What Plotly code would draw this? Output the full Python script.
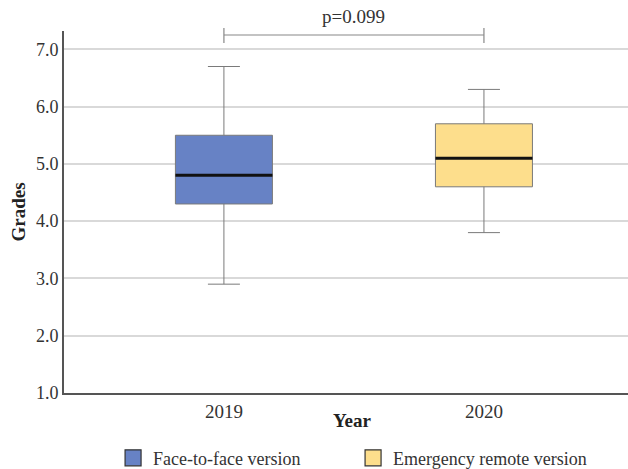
import plotly.graph_objects as go

years = ["2019", "2020"]
groups = ["Face-to-face version", "Emergency remote version"]
lower = [2.9, 3.8]
q1 = [4.3, 4.6]
median = [4.8, 5.1]
q3 = [5.5, 5.7]
upper = [6.7, 6.3]
p_label = "p=0.099"
x_title = "Year"
y_title = "Grades"
y_ticks = [1.0, 2.0, 3.0, 4.0, 5.0, 6.0, 7.0]

fills = ["#6782C5", "#FDDE8C"]
xpos = [0, 1]
box_w = 0.373
FONT = "Times New Roman, Liberation Serif, serif"

fig = go.Figure()
for i in range(2):
    fig.add_trace(go.Box(
        x=[xpos[i]], q1=[q1[i]], median=[median[i]], q3=[q3[i]],
        lowerfence=[lower[i]], upperfence=[upper[i]],
        width=box_w, whiskerwidth=0.33,
        fillcolor=fills[i], line=dict(color="#7a7a7a", width=1),
        showlegend=False, hoverinfo="skip", name=groups[i],
    ))
    fig.add_trace(go.Scatter(
        x=[xpos[i] - box_w / 2, xpos[i] + box_w / 2], y=[median[i], median[i]],
        mode="lines", line=dict(color="#111111", width=3),
        showlegend=False, hoverinfo="skip",
    ))
    fig.add_trace(go.Scatter(
        x=[None], y=[None], mode="markers", name=groups[i],
        marker=dict(symbol="square", size=19, color=fills[i],
                    line=dict(color="#333333", width=1.2)),
    ))

fig.add_shape(type="line", xref="x", yref="paper", x0=xpos[0], x1=xpos[1],
              y0=0.989, y1=0.989, line=dict(color="#888888", width=1.2))
for xp in xpos:
    fig.add_shape(type="line", xref="x", yref="paper", x0=xp, x1=xp,
                  y0=0.967, y1=1.008, line=dict(color="#888888", width=1.2))
fig.add_annotation(x=(xpos[0] + xpos[1]) / 2, y=1.005, xref="x", yref="paper",
                   text=p_label, showarrow=False, yanchor="bottom",
                   font=dict(family=FONT, size=19, color="#333333"))
fig.add_annotation(x=0.512, y=-0.075, xref="paper", yref="paper",
                   text="<b>" + x_title + "</b>", showarrow=False, yanchor="middle",
                   font=dict(family=FONT, size=19, color="#222222"))

fig.update_layout(
    width=628, height=469,
    margin=dict(l=64, r=0, t=31, b=76, autoexpand=False),
    plot_bgcolor="white", paper_bgcolor="white",
    font=dict(family=FONT, size=18, color="#333333"),
    xaxis=dict(range=[-0.615, 1.554], tickmode="array", tickvals=xpos, ticktext=years,
               showgrid=False, zeroline=False, showline=True, linecolor="#555555",
               linewidth=2, ticks="", automargin=False,
               tickfont=dict(family=FONT, size=19, color="#333333")),
    yaxis=dict(range=[1.0, 7.32], tickmode="array", tickvals=y_ticks, tickformat=".1f",
               showgrid=True, gridcolor="#d9d9d9", gridwidth=1.5, zeroline=False,
               showline=True, linecolor="#555555", linewidth=2, ticks="", automargin=False,
               tickfont=dict(family=FONT, size=18, color="#333333"),
               title=dict(text="<b>" + y_title + "</b>", standoff=5,
                          font=dict(family=FONT, size=19, color="#222222"))),
    legend=dict(orientation="h", x=0.087, xanchor="left", y=-0.18, yanchor="middle",
                entrywidth=195, entrywidthmode="pixels",
                font=dict(family=FONT, size=18, color="#333333")),
)

fig.write_html("out.html", config={"displayModeBar": False},
               post_script="document.body.style.margin='0';")
